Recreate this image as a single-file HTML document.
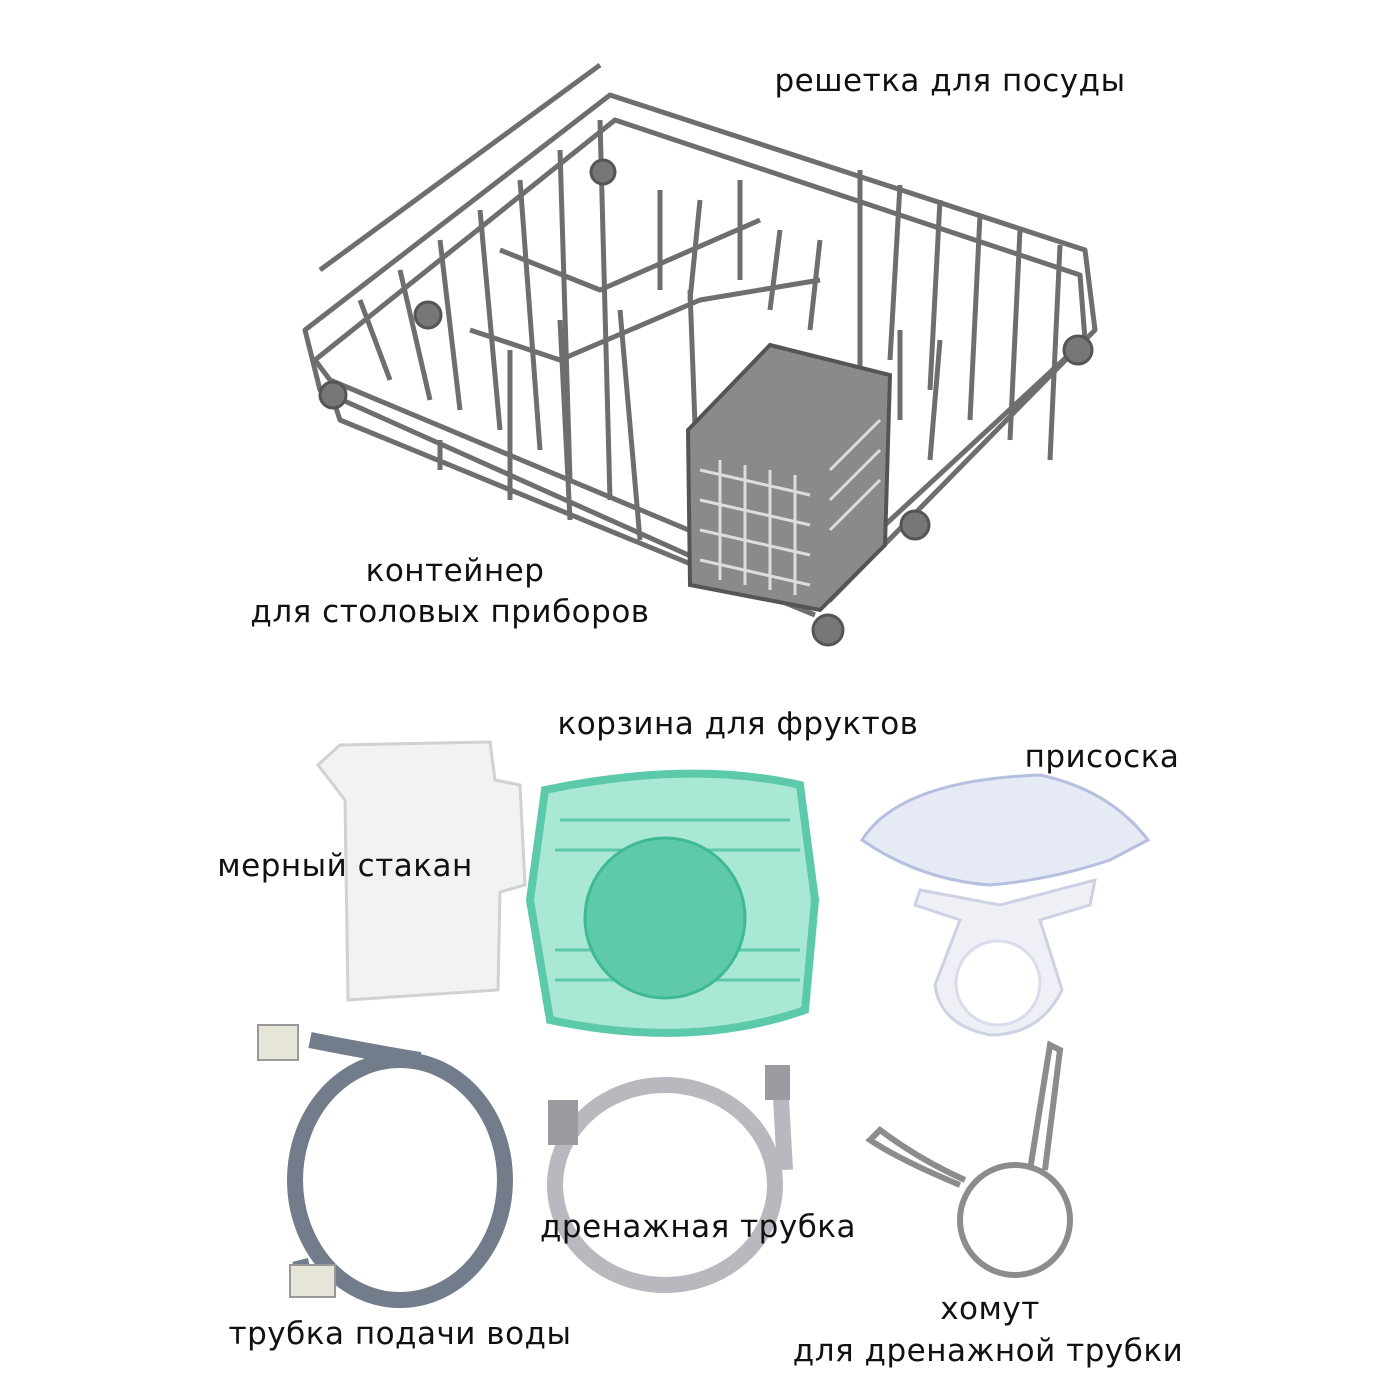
<!DOCTYPE html>
<html><head><meta charset="utf-8"><style>
body{margin:0;background:#fff;}
.w{position:relative;width:1400px;height:1400px;overflow:hidden;}
svg{position:absolute;left:0;top:0;}
.t{position:absolute;font-family:"DejaVu Sans","Liberation Sans",sans-serif;font-size:31px;color:#111;white-space:nowrap;transform:translateX(-50%);letter-spacing:0.5px;}
</style></head><body><div class="w">
<svg width="1400" height="1400" viewBox="0 0 1400 1400">
<g fill="none" stroke="#6e6e6e" stroke-width="5" stroke-linejoin="round">
 <!-- rack outer frame -->
 <path d="M305 330 L610 95 L1085 250 L1095 330 L830 600 L800 605 L320 390 Z"/>
 <path d="M315 360 L615 120 L1080 275 L1085 340 L820 585 L330 380 Z"/>
 <path d="M320 270 L600 65"/>
 <path d="M330 390 L340 420 L815 615"/>
 <!-- cross wires -->
 <path d="M360 300 L390 380 M400 270 L430 400 M440 240 L460 410 M480 210 L500 430 M520 180 L540 450 M560 150 L570 480 M600 120 L610 500"/>
 <path d="M860 170 L860 330 M900 185 L890 360 M940 200 L930 390 M980 215 L970 420 M1020 230 L1010 440 M1060 245 L1050 460"/>
 <path d="M470 330 L560 360 L700 300 L820 280 M500 250 L600 290 L760 220"/>
 <path d="M440 440 L440 470 M510 350 L510 500 M560 320 L570 520 M620 310 L640 540 M690 290 L700 560"/>
 <path d="M660 190 L660 290 M700 200 L690 300 M740 180 L740 280 M780 230 L770 310 M820 240 L810 330 M860 310 L860 380 M900 330 L900 420 M940 340 L930 460"/>
</g>
<g fill="#777" stroke="#555" stroke-width="3">
 <circle cx="603" cy="172" r="12"/><circle cx="428" cy="315" r="13"/><circle cx="333" cy="395" r="13"/>
 <circle cx="1078" cy="350" r="14"/><circle cx="915" cy="525" r="14"/><circle cx="828" cy="630" r="15"/>
</g>
<!-- cutlery basket -->
<path d="M688 430 L770 345 L890 375 L885 545 L820 610 L690 585 Z" fill="#8a8a8a" stroke="#555" stroke-width="4"/>
<g stroke="#ddd" stroke-width="3" fill="none">
 <path d="M700 470 L810 495 M700 500 L810 525 M700 530 L810 555 M700 560 L810 585"/>
 <path d="M720 460 L720 580 M745 465 L745 585 M770 470 L770 590 M795 475 L795 595"/>
 <path d="M830 470 L880 420 M830 500 L880 450 M830 530 L880 480"/>
</g>
<!-- jug -->
<path d="M318 765 L340 745 L490 742 L495 780 L520 785 L525 885 L500 892 L498 990 L348 1000 L345 800 Z" fill="#f1f2f1" stroke="#cfd2d0" stroke-width="3"/>
<!-- green basket -->
<path d="M545 790 Q690 760 800 785 L815 900 L805 1010 Q690 1050 550 1020 L530 900 Z" fill="#a8e8d5" stroke="#5cc9ab" stroke-width="8"/>
<g stroke="#5cc9ab" stroke-width="3">
 <path d="M560 820 L790 820 M555 850 L800 850 M555 950 L800 950 M555 980 L800 980"/>
</g>
<circle cx="665" cy="918" r="80" fill="#5fcaaa" stroke="#3fb995" stroke-width="3"/>
<!-- suction cup -->
<path d="M862 840 Q900 780 1040 775 Q1110 790 1148 840 L1110 860 Q1050 880 990 885 Q920 880 862 840 Z" fill="#e6eaf4" stroke="#b6bfe0" stroke-width="3"/>
<path d="M920 890 L1000 905 L1095 880 L1090 905 L1040 920 L1062 990 Q1040 1035 990 1035 Q940 1025 935 985 L960 920 L915 905 Z" fill="#eef0f6" stroke="#cdd2e2" stroke-width="3"/>
<circle cx="998" cy="983" r="42" fill="#fff" stroke="#d8dceb" stroke-width="3"/>
<!-- inlet hose -->
<g fill="none" stroke="#727c8a" stroke-width="16">
 <ellipse cx="400" cy="1180" rx="105" ry="120"/>
 <path d="M310 1040 Q360 1050 420 1060"/>
 <path d="M300 1260 Q305 1280 310 1285"/>
</g>
<rect x="258" y="1025" width="40" height="35" fill="#e8e6d8" stroke="#999" stroke-width="2"/>
<rect x="290" y="1265" width="45" height="32" fill="#e8e6d8" stroke="#999" stroke-width="2"/>
<!-- drain hose -->
<g fill="none" stroke="#b7b9bf" stroke-width="16">
 <ellipse cx="665" cy="1185" rx="110" ry="100"/>
 <path d="M780 1080 L785 1170"/>
</g>
<rect x="765" y="1065" width="25" height="35" fill="#9a9ca2"/>
<rect x="548" y="1100" width="30" height="45" fill="#9a9ca2"/>
<!-- clamp -->
<g fill="none" stroke="#8c8c8c" stroke-width="6">
 <circle cx="1015" cy="1220" r="55"/>
 <path d="M965 1180 Q920 1160 880 1130 L870 1140 Q900 1160 960 1185"/>
 <path d="M1030 1170 L1050 1045 L1060 1050 L1045 1170"/>
</g>
</svg>
<div class="t" style="left:950px;top:63px">решетка для посуды</div>
<div class="t" style="left:455px;top:553px">контейнер</div>
<div class="t" style="left:450px;top:594px">для столовых приборов</div>
<div class="t" style="left:738px;top:706px">корзина для фруктов</div>
<div class="t" style="left:1102px;top:739px">присоска</div>
<div class="t" style="left:345px;top:848px">мерный стакан</div>
<div class="t" style="left:698px;top:1209px">дренажная трубка</div>
<div class="t" style="left:400px;top:1316px">трубка подачи воды</div>
<div class="t" style="left:990px;top:1291px">хомут</div>
<div class="t" style="left:988px;top:1333px">для дренажной трубки</div>
</div></body></html>
